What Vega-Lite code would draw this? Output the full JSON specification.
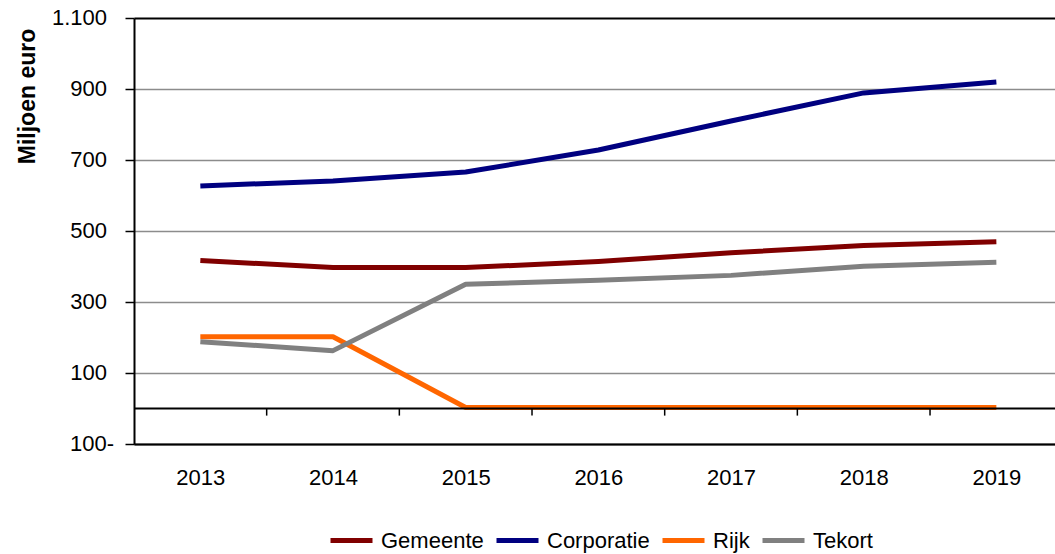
{
  "$schema": "https://vega.github.io/schema/vega-lite/v6.json",
  "autosize": "none",
  "width": 921,
  "height": 426,
  "padding": {"left": 134, "top": 18, "right": 0, "bottom": 110},
  "background": "white",
  "config": {
    "font": "Liberation Sans",
    "view": {"stroke": null},
    "axis": {"labelColor": "black", "titleColor": "black", "labelFont": "Liberation Sans", "titleFont": "Liberation Sans"},
    "legend": {"labelFont": "Liberation Sans"}
  },
  "datasets": {
    "series": [
      {"jaar": 2013, "reeks": "Gemeente", "waarde": 417},
      {"jaar": 2014, "reeks": "Gemeente", "waarde": 397},
      {"jaar": 2015, "reeks": "Gemeente", "waarde": 397},
      {"jaar": 2016, "reeks": "Gemeente", "waarde": 414},
      {"jaar": 2017, "reeks": "Gemeente", "waarde": 439},
      {"jaar": 2018, "reeks": "Gemeente", "waarde": 459},
      {"jaar": 2019, "reeks": "Gemeente", "waarde": 470},
      {"jaar": 2013, "reeks": "Corporatie", "waarde": 627},
      {"jaar": 2014, "reeks": "Corporatie", "waarde": 641},
      {"jaar": 2015, "reeks": "Corporatie", "waarde": 666},
      {"jaar": 2016, "reeks": "Corporatie", "waarde": 728},
      {"jaar": 2017, "reeks": "Corporatie", "waarde": 810},
      {"jaar": 2018, "reeks": "Corporatie", "waarde": 889},
      {"jaar": 2019, "reeks": "Corporatie", "waarde": 920},
      {"jaar": 2013, "reeks": "Rijk", "waarde": 202},
      {"jaar": 2014, "reeks": "Rijk", "waarde": 202},
      {"jaar": 2015, "reeks": "Rijk", "waarde": 3},
      {"jaar": 2016, "reeks": "Rijk", "waarde": 3},
      {"jaar": 2017, "reeks": "Rijk", "waarde": 3},
      {"jaar": 2018, "reeks": "Rijk", "waarde": 3},
      {"jaar": 2019, "reeks": "Rijk", "waarde": 3},
      {"jaar": 2013, "reeks": "Tekort", "waarde": 188},
      {"jaar": 2014, "reeks": "Tekort", "waarde": 163},
      {"jaar": 2015, "reeks": "Tekort", "waarde": 350},
      {"jaar": 2016, "reeks": "Tekort", "waarde": 361},
      {"jaar": 2017, "reeks": "Tekort", "waarde": 375},
      {"jaar": 2018, "reeks": "Tekort", "waarde": 401},
      {"jaar": 2019, "reeks": "Tekort", "waarde": 412}
    ],
    "ticks": [
      {"pos": 2013.5}, {"pos": 2014.5}, {"pos": 2015.5}, {"pos": 2016.5}, {"pos": 2017.5}, {"pos": 2018.5}
    ],
    "zero": [{"y": 0}],
    "ylabels": [
      {"v": -100, "t": "100-", "neg": true},
      {"v": 100, "t": "100", "neg": false},
      {"v": 300, "t": "300", "neg": false},
      {"v": 500, "t": "500", "neg": false},
      {"v": 700, "t": "700", "neg": false},
      {"v": 900, "t": "900", "neg": false},
      {"v": 1100, "t": "1.100", "neg": false}
    ]
  },
  "layer": [
    {
      "data": {"name": "series"},
      "mark": {"type": "line", "strokeWidth": 5, "strokeCap": "butt", "strokeJoin": "round"},
      "encoding": {
        "x": {
          "field": "jaar", "type": "quantitative",
          "scale": {"domain": [2012.5, 2019.442], "nice": false, "zero": false},
          "axis": {
            "values": [2013, 2014, 2015, 2016, 2017, 2018, 2019],
            "format": "d", "ticks": false, "grid": false, "title": null,
            "domainColor": "black", "domainWidth": 2,
            "labelFontSize": 22, "labelPadding": 23
          }
        },
        "y": {
          "field": "waarde", "type": "quantitative",
          "scale": {"domain": [-100, 1100], "nice": false, "zero": false},
          "axis": {
            "values": [-100, 100, 300, 500, 700, 900, 1100],
            "labels": false,
            "tickColor": "black", "tickSize": 9, "tickWidth": 1.5,
            "domainColor": "black", "domainWidth": 2,
            "grid": true,
            "gridColor": {"condition": {"test": "datum.value == 1100 || datum.value == -100", "value": "black"}, "value": "#8c8c8c"},
            "gridWidth": {"condition": {"test": "datum.value == 1100", "value": 2}, "value": 1.5},
            "title": "Miljoen euro", "titleFontSize": 23, "titleFontWeight": "bold",
            "titleX": -107, "titleY": 78, "titleAngle": -90, "titleAlign": "center", "titleBaseline": "middle"
          }
        },
        "color": {
          "field": "reeks", "type": "nominal",
          "scale": {"domain": ["Gemeente", "Corporatie", "Rijk", "Tekort"], "range": ["#800000", "#000080", "#ff6600", "#808080"]},
          "legend": {
            "orient": "none", "legendX": 194, "legendY": 499,
            "direction": "horizontal", "title": null, "gridAlign": "none",
            "symbolType": "stroke", "symbolSize": 1764, "symbolStrokeWidth": 5,
            "labelFontSize": 22, "labelColor": "black", "labelOffset": 6, "columnPadding": 2,
            "labelLimit": 400, "symbolOffset": 0
          }
        }
      }
    },
    {
      "data": {"name": "zero"},
      "mark": {"type": "rule", "color": "black", "strokeWidth": 2},
      "encoding": {"y": {"field": "y", "type": "quantitative"}}
    },
    {
      "data": {"name": "ticks"},
      "mark": {"type": "rule", "color": "black", "strokeWidth": 1.5},
      "encoding": {
        "x": {"field": "pos", "type": "quantitative"},
        "y": {"datum": 0, "type": "quantitative"},
        "y2": {"datum": -20}
      }
    },
    {
      "data": {"name": "ylabels"},
      "transform": [{"filter": "!datum.neg"}],
      "mark": {"type": "text", "align": "right", "baseline": "middle", "dx": -27, "fontSize": 22, "font": "Liberation Sans", "color": "black"},
      "encoding": {
        "x": {"datum": 2012.5, "type": "quantitative"},
        "y": {"field": "v", "type": "quantitative"},
        "text": {"field": "t"}
      }
    },
    {
      "data": {"name": "ylabels"},
      "transform": [{"filter": "datum.neg"}],
      "mark": {"type": "text", "align": "right", "baseline": "middle", "dx": -20, "fontSize": 22, "font": "Liberation Sans", "color": "black"},
      "encoding": {
        "x": {"datum": 2012.5, "type": "quantitative"},
        "y": {"field": "v", "type": "quantitative"},
        "text": {"field": "t"}
      }
    }
  ]
}
